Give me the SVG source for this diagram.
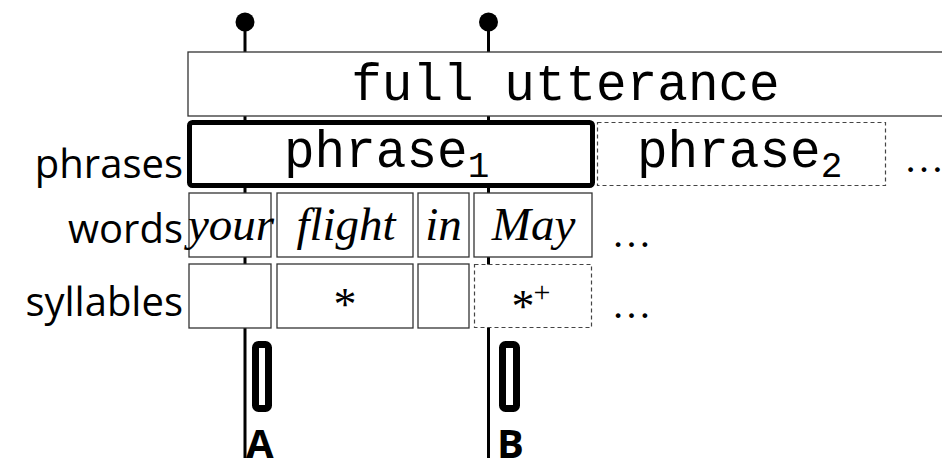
<svg xmlns="http://www.w3.org/2000/svg" width="942" height="461" viewBox="0 0 942 461">
  <style>
    .box { fill: #fff; stroke: #333; stroke-width: 1.3; }
    .dash { fill: #fff; stroke: #444; stroke-width: 1.2; stroke-dasharray: 4 3; }
    .thick { fill: #fff; stroke: #000; stroke-width: 5; }
    .mono { font-family: "Courier New", "Nimbus Mono PS", "Nimbus Mono L", "FreeMono", "Liberation Mono", monospace; font-size: 51px; fill: #000; }
    .label { font-family: "Open Sans", "DejaVu Sans", sans-serif; font-size: 40px; fill: #000; text-anchor: end; }
    .word { font-family: "Liberation Serif", "DejaVu Serif", serif; font-style: italic; font-size: 47px; fill: #000; text-anchor: middle; }
    .ser { font-family: "Liberation Serif", "DejaVu Serif", serif; fill: #000; }
    .mark { font-family: "Open Sans", "DejaVu Sans", sans-serif; font-weight: bold; font-size: 40px; fill: #000; }
    .line { stroke: #000; stroke-width: 3; fill: none; }
    .bar { fill: #fff; stroke: #000; stroke-width: 7; }
  </style>

  <!-- time markers A and B -->
  <g id="connectors">
    <line class="line" x1="245" y1="22" x2="245" y2="458"/>
    <line class="line" x1="488.5" y1="22" x2="488.5" y2="458"/>
    <circle cx="245" cy="22" r="9.5" fill="#000"/>
    <circle cx="488.5" cy="22" r="9.5" fill="#000"/>
  </g>

  <g id="utterance">
    <rect class="box" x="188" y="52" width="770" height="64"/>
    <text class="mono" x="565.5" y="100" text-anchor="middle">full utterance</text>
  </g>

  <!-- row labels -->
  <g id="labels">
    <text class="label" x="183" y="178">phrases</text>
    <text class="label" x="183" y="243">words</text>
    <text class="label" x="183" y="316">syllables</text>
  </g>

  <g id="phrase1">
    <rect class="thick" x="189.5" y="122.5" width="403" height="63" rx="3"/>
    <text class="mono" x="284" y="167">phrase<tspan font-size="36" dy="10">1</tspan></text>
  </g>
  <g id="phrase2">
    <rect class="dash" x="597.5" y="122.5" width="288" height="63"/>
    <text class="mono" x="637" y="167">phrase<tspan font-size="36" dy="10">2</tspan></text>
  </g>
  <text class="ser" x="904" y="172" font-size="40">…</text>

  <g id="word-your">
    <rect class="box" x="189" y="193" width="82" height="64"/>
    <text class="word" x="231" y="240">your</text>
  </g>
  <g id="word-flight">
    <rect class="box" x="277" y="193" width="136" height="64"/>
    <text class="word" x="346" y="240">flight</text>
  </g>
  <g id="word-in">
    <rect class="box" x="418" y="193" width="51" height="64"/>
    <text class="word" x="443.5" y="240">in</text>
  </g>
  <g id="word-may">
    <rect class="box" x="474" y="193" width="118" height="64"/>
    <text class="word" x="533.5" y="240">May</text>
  </g>
  <text class="ser" x="611.5" y="247" font-size="40">…</text>

  <g id="syl-1">
    <rect class="box" x="189" y="264" width="82" height="64"/>
  </g>
  <g id="syl-2">
    <rect class="box" x="277" y="264" width="136" height="64"/>
    <text class="ser" x="345" y="320" font-size="46" text-anchor="middle">*</text>
  </g>
  <g id="syl-3">
    <rect class="box" x="418" y="264" width="51" height="64"/>
  </g>
  <g id="syl-4">
    <rect class="dash" x="474.5" y="264.5" width="117" height="63"/>
    <text class="ser" x="523" y="322" font-size="46" text-anchor="middle">*</text>
    <text class="ser" x="542" y="302" font-size="30" text-anchor="middle">+</text>
  </g>
  <text class="ser" x="611.5" y="318" font-size="40">…</text>

  <g id="marker-a">
    <rect class="bar" x="255.5" y="344.5" width="13" height="64" rx="3"/>
    <text class="mark" x="246" y="458">A</text>
  </g>
  <g id="marker-b">
    <rect class="bar" x="502.5" y="344.5" width="14" height="64" rx="3"/>
    <text class="mark" x="497" y="458">B</text>
  </g>
</svg>
